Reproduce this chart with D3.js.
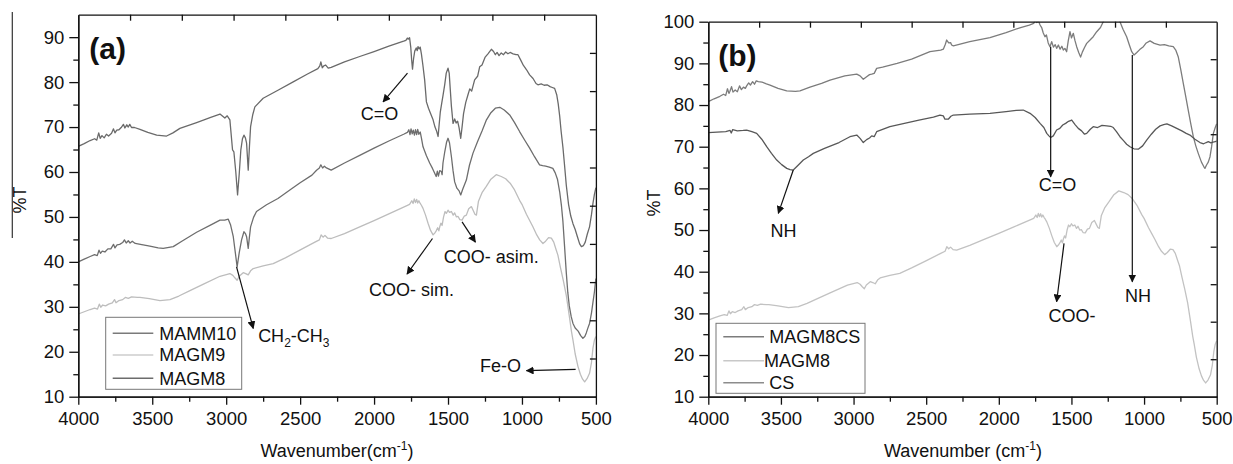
<!DOCTYPE html>
<html>
<head>
<meta charset="utf-8">
<script src="https://cdn.jsdelivr.net/npm/d3@7"></script>
<style>
  html, body { margin: 0; padding: 0; background: #fff; }
  svg { display: block; font-family: "Liberation Sans", Arial, sans-serif; }
  .axis path, .axis line { stroke: #111; stroke-width: 1.3; }
  .spec { fill: none; stroke-width: 1.3; stroke-linejoin: round; }
  .ann { font-size: 18px; fill: #111; }
</style>
</head>
<body>
<svg id="chart" width="1233" height="464"></svg>
<script>
// ---------- FTIR spectra, [wavenumber (cm-1), %T] ----------
const mamm10 = [
  [4000,65.7],[3960,66.3],[3920,67.0],[3890,67.4],[3875,67.1],[3862,68.7],[3852,67.5],[3840,68.1],[3825,67.6],
  [3810,68.4],[3795,68.0],[3775,68.6],[3762,69.6],[3752,68.7],[3740,69.3],[3725,69.4],[3710,69.9],[3695,70.6],
  [3685,69.8],[3672,70.5],[3662,70.0],[3652,70.6],[3640,69.9],[3620,69.9],[3583,69.5],[3530,68.8],[3470,68.2],
  [3403,68.0],[3360,68.7],[3313,69.7],[3200,71.0],[3100,72.2],[3042,72.9],[3009,72.0],[2993,72.5],[2975,71.6],
  [2957,64.9],[2948,64.5],[2935,60.0],[2923,54.9],[2912,59.5],[2901,64.9],[2890,67.4],[2880,68.2],[2870,67.6],
  [2862,66.4],[2851,60.4],[2843,65.5],[2835,70.1],[2820,72.8],[2806,74.5],[2750,76.4],[2650,78.2],[2550,80.0],
  [2450,81.8],[2380,83.0],[2367,83.6],[2360,84.5],[2350,83.2],[2340,83.6],[2327,83.8],[2310,83.1],[2290,83.3],
  [2200,84.5],[2097,85.7],[2000,86.8],[1900,88.0],[1830,88.8],[1800,89.1],[1785,89.3],[1775,89.8],[1768,89.6],
  [1760,89.9],[1752,87.8],[1746,85.0],[1740,82.9],[1733,85.2],[1725,86.9],[1715,87.6],[1708,87.0],[1703,87.9],
  [1695,87.4],[1688,87.8],[1680,86.3],[1670,83.8],[1658,80.5],[1646,75.6],[1632,74.2],[1618,73.0],[1601,71.6],
  [1588,70.0],[1578,69.2],[1567,67.9],[1560,70.5],[1552,73.4],[1543,75.2],[1534,77.0],[1522,79.5],[1512,82.0],
  [1500,83.1],[1492,82.0],[1485,78.5],[1477,74.6],[1466,70.8],[1455,71.8],[1445,70.9],[1435,71.3],[1425,69.8],
  [1414,67.5],[1405,70.0],[1395,73.0],[1380,75.5],[1365,77.2],[1353,78.5],[1340,78.0],[1320,80.5],[1300,81.3],
  [1286,83.4],[1270,83.8],[1250,85.5],[1230,86.3],[1207,87.3],[1192,86.8],[1180,86.1],[1168,86.6],[1155,85.9],
  [1140,86.5],[1125,86.1],[1110,86.7],[1095,86.3],[1080,86.6],[1060,86.3],[1040,86.1],[1027,86.1],[1010,85.0],
  [990,83.7],[970,82.8],[948,81.6],[925,80.8],[905,79.7],[892,79.4],[870,79.6],[850,79.3],[830,79.4],[810,79.0],
  [795,78.8],[779,78.6],[765,77.2],[755,75.2],[745,72.5],[735,69.0],[723,65.5],[712,61.5],[700,57.0],[685,52.8],
  [670,50.2],[655,48.5],[640,47.2],[625,45.6],[610,44.0],[598,43.4],[585,43.6],[572,44.4],[558,46.2],[543,47.8],
  [530,50.5],[520,53.0],[510,55.0],[500,56.5]
];

const magm9 = [
  [4000,28.4],[3960,28.9],[3920,29.4],[3890,29.7],[3870,29.5],[3858,30.6],[3848,29.9],[3835,30.4],[3815,30.2],
  [3795,30.6],[3770,30.9],[3755,31.6],[3745,30.9],[3725,31.4],[3700,31.6],[3682,32.1],[3662,31.9],[3640,32.2],
  [3600,32.1],[3583,32.1],[3520,31.8],[3448,31.4],[3380,31.6],[3320,32.4],[3245,33.6],[3150,35.1],[3042,36.8],
  [2975,37.4],[2955,37.0],[2940,36.4],[2926,35.9],[2912,36.8],[2885,37.6],[2868,37.4],[2851,37.1],[2835,38.0],
  [2817,38.5],[2750,39.1],[2682,39.6],[2600,40.9],[2502,42.6],[2400,44.4],[2370,44.9],[2358,46.0],[2345,45.5],
  [2332,45.9],[2315,45.3],[2290,45.2],[2200,46.3],[2097,47.8],[2000,49.2],[1900,50.7],[1800,52.2],[1760,52.8],
  [1745,53.6],[1736,53.0],[1728,54.0],[1720,53.2],[1712,53.9],[1705,53.1],[1697,53.6],[1688,53.0],[1680,52.6],
  [1669,51.9],[1652,50.4],[1635,48.6],[1618,47.0],[1601,46.0],[1590,46.4],[1580,46.9],[1570,47.6],[1562,46.9],
  [1556,47.8],[1548,48.6],[1540,48.1],[1530,50.0],[1520,51.2],[1511,50.8],[1500,51.5],[1490,51.0],[1477,51.2],
  [1465,50.4],[1455,50.9],[1443,50.0],[1432,50.1],[1420,49.4],[1405,49.3],[1390,50.2],[1376,50.4],[1360,51.8],
  [1342,52.3],[1328,51.3],[1318,50.6],[1308,50.4],[1294,53.5],[1270,55.4],[1241,56.8],[1210,58.4],[1174,59.4],
  [1140,59.0],[1110,58.5],[1080,57.5],[1050,56.0],[1016,53.7],[1000,52.8],[970,50.6],[948,49.2],[926,47.8],
  [900,46.0],[880,44.9],[858,44.1],[840,44.6],[820,45.4],[801,45.3],[785,44.4],[770,42.8],[757,41.5],[740,38.8],
  [720,35.8],[700,32.5],[680,28.0],[665,24.5],[655,22.6],[640,19.5],[621,16.7],[605,15.0],[590,13.9],[576,13.3],
  [560,14.0],[543,15.2],[530,17.6],[520,20.8],[510,22.6],[500,23.4]
];

const magm8 = [
  [4000,40.0],[3960,40.6],[3920,41.2],[3890,41.6],[3872,41.4],[3860,42.6],[3850,41.9],[3838,42.4],[3820,42.2],
  [3800,42.9],[3780,42.9],[3762,43.9],[3752,43.1],[3738,43.8],[3720,43.9],[3700,44.3],[3688,44.9],[3676,44.2],
  [3662,44.7],[3650,44.2],[3635,44.6],[3615,44.1],[3580,43.9],[3516,43.5],[3460,43.1],[3426,43.0],[3358,43.4],
  [3300,44.6],[3200,46.6],[3100,48.3],[3042,49.3],[3010,49.3],[2986,49.5],[2970,48.2],[2952,45.6],[2938,42.0],
  [2926,38.9],[2912,42.0],[2896,44.9],[2880,46.7],[2870,46.3],[2862,45.6],[2851,43.0],[2843,45.5],[2835,47.8],
  [2815,49.9],[2795,51.2],[2727,52.7],[2650,54.1],[2560,56.2],[2500,57.6],[2420,59.3],[2389,60.4],[2370,60.9],
  [2360,61.6],[2348,60.9],[2336,61.3],[2322,60.9],[2290,60.4],[2200,62.0],[2097,63.7],[2000,65.3],[1900,66.9],
  [1800,68.4],[1775,68.8],[1765,69.4],[1757,68.3],[1750,69.6],[1742,68.5],[1735,69.3],[1727,68.2],[1720,69.4],
  [1712,68.3],[1705,69.5],[1697,68.4],[1688,68.9],[1680,67.6],[1669,65.6],[1646,63.6],[1624,62.0],[1605,60.8],
  [1590,59.7],[1580,59.0],[1572,60.2],[1565,59.1],[1556,60.3],[1545,60.1],[1540,59.4],[1534,62.0],[1522,64.5],
  [1510,66.6],[1500,67.5],[1490,66.5],[1477,63.4],[1466,60.3],[1455,57.8],[1440,56.4],[1425,55.8],[1414,54.9],
  [1400,56.2],[1376,58.2],[1355,61.5],[1331,64.2],[1300,66.8],[1270,69.1],[1240,71.6],[1210,73.2],[1180,74.2],
  [1150,74.4],[1120,73.8],[1083,72.7],[1050,71.0],[1016,69.0],[980,67.0],[948,65.3],[915,63.4],[881,61.6],
  [860,61.4],[840,61.3],[815,61.1],[791,60.8],[775,59.8],[760,58.4],[745,55.6],[733,52.5],[723,49.0],
  [712,43.5],[700,37.5],[690,33.2],[680,30.2],[667,27.8],[655,26.3],[640,25.3],[620,24.6],[603,23.6],
  [588,23.0],[575,23.4],[565,24.2],[555,25.2],[543,26.3],[530,28.6],[520,31.0],[510,33.3],[504,35.2],[500,36.3]
];

const magm8cs = [
  [4000,80.8],[3960,81.5],[3920,82.1],[3895,82.6],[3880,82.3],[3868,83.9],[3858,82.8],[3851,83.3],[3840,84.4],
  [3830,83.1],[3815,83.6],[3800,83.2],[3785,84.6],[3772,83.7],[3758,84.3],[3745,84.0],[3736,84.6],[3722,85.3],
  [3710,84.8],[3695,85.6],[3682,85.0],[3670,85.8],[3656,85.6],[3630,85.5],[3600,85.1],[3575,84.8],[3520,84.0],
  [3460,83.4],[3400,83.3],[3369,83.4],[3300,84.3],[3220,85.2],[3162,86.0],[3060,87.0],[2978,87.4],[2955,87.0],
  [2933,86.2],[2910,86.8],[2890,87.3],[2875,87.4],[2858,87.6],[2841,88.8],[2800,89.1],[2700,90.0],[2600,91.0],
  [2474,92.8],[2400,93.2],[2382,93.4],[2368,94.6],[2359,95.6],[2345,94.9],[2332,95.0],[2325,94.4],[2313,94.2],
  [2200,95.2],[2061,96.2],[1950,97.4],[1850,98.6],[1790,99.2],[1760,99.6],[1748,100.4],[1739,99.8],[1728,100.3],
  [1716,99.2],[1704,98.5],[1694,97.3],[1682,96.4],[1672,96.8],[1660,94.9],[1648,94.0],[1636,95.2],[1624,93.9],
  [1612,94.5],[1602,93.6],[1590,94.4],[1578,93.4],[1566,94.1],[1556,93.2],[1545,93.6],[1533,92.8],[1522,95.4],
  [1510,97.6],[1500,96.1],[1487,97.2],[1476,95.5],[1464,94.0],[1450,92.6],[1437,91.5],[1425,92.7],[1410,93.8],
  [1395,94.8],[1372,95.6],[1350,96.4],[1326,97.6],[1300,98.6],[1281,100.0],[1260,101.5],[1230,103],[1200,102],
  [1180,101],[1166,100.0],[1145,98.2],[1120,96.4],[1100,94.3],[1085,92.8],[1069,92.0],[1050,92.6],[1030,93.3],
  [1005,94.0],[985,94.9],[959,95.4],[930,94.8],[890,94.4],[860,94.5],[830,94.2],[799,94.0],[782,93.2],
  [765,91.6],[748,88.6],[730,85.2],[713,82.0],[696,78.8],[678,75.4],[661,72.4],[644,70.2],[627,68.4],
  [605,66.3],[590,65.3],[581,64.8],[570,65.6],[558,66.3],[546,67.6],[535,70.0],[523,73.2],[510,74.6],[500,75.5]
];

const cs = [
  [4000,73.4],[3940,73.5],[3880,73.6],[3850,73.9],[3842,73.3],[3832,74.1],[3800,73.8],[3760,73.9],[3736,74.0],
  [3700,73.6],[3667,73.2],[3632,71.8],[3598,70.0],[3565,68.4],[3529,66.8],[3495,65.7],[3460,64.8],[3437,64.5],
  [3415,64.4],[3380,65.6],[3346,66.8],[3310,67.6],[3277,68.4],[3200,69.6],[3100,71.0],[3025,72.4],[2978,72.8],
  [2955,72.0],[2933,71.0],[2910,71.7],[2890,72.1],[2875,72.6],[2858,72.4],[2841,73.6],[2750,74.8],[2650,75.6],
  [2550,76.4],[2450,77.1],[2405,77.6],[2382,77.4],[2371,76.6],[2348,76.6],[2330,77.3],[2313,77.6],[2200,77.8],
  [2061,78.0],[1950,78.4],[1880,78.7],[1832,78.8],[1785,78.0],[1750,77.0],[1716,75.6],[1690,74.6],[1670,73.2],
  [1655,72.6],[1643,72.2],[1625,72.6],[1602,74.0],[1580,74.4],[1560,75.2],[1540,75.6],[1520,76.1],[1498,76.4],
  [1475,75.3],[1453,74.4],[1430,73.8],[1410,73.0],[1395,73.2],[1370,74.2],[1350,74.8],[1320,74.6],[1290,75.1],
  [1257,75.0],[1230,74.9],[1212,74.6],[1190,73.6],[1166,72.4],[1140,71.4],[1120,70.6],[1097,70.0],[1070,69.5],
  [1040,69.4],[1010,70.2],[982,71.6],[950,73.0],[920,74.2],[890,75.0],[865,75.3],[843,75.5],[810,75.0],
  [775,74.4],[740,73.8],[710,73.2],[684,72.8],[650,71.8],[615,71.0],[590,70.7],[572,71.0],[558,71.2],
  [540,70.9],[525,71.1],[510,71.2],[500,71.4]
];

// light trace of panel (b), labelled MAGM8
const magm8Ref = magm9.map(d => [d[0], d[1]]);

// ---------- tick labels ----------
const xTickLabels = [4000, 3500, 3000, 2500, 2000, 1500, 1000, 500];
const yTickLabelsA = [10, 20, 30, 40, 50, 60, 70, 80, 90];
const yTickLabelsB = [10, 20, 30, 40, 50, 60, 70, 80, 90, 100];

// ---------- legends ----------
const legendA = [
  { name: "MAMM10", color: "#7a7a7a" },
  { name: "MAGM9",  color: "#cdcdcd" },
  { name: "MAGM8",  color: "#6c6c6c" }
];
const legendB = [
  { name: "MAGM8CS", color: "#7c7c7c" },
  { name: "MAGM8",   color: "#c8c8c8" },
  { name: "CS",      color: "#8c8c8c" }
];

// ---------- annotations (arrow from -> to in data units, label centre) ----------
const notesA = [
  { from: [1774, 82.0], to: [1939, 75.6], label: [1963, 73.1], text: "C=O" },
  { from: [1605, 45.2], to: [1777, 37.3], label: [1747, 33.9], text: "COO- sim." },
  { from: [1405, 48.9], to: [1315, 44.4], label: [1207, 41.2], text: "COO- asim." },
  { from: [637, 16.1],  to: [970, 15.8],  label: [1145, 16.9], text: "Fe-O" },
  { from: [2930, 38.9], to: [2817, 25.2], label: null, text: "CH2-CH3" }
];
const notesB = [
  { from: [3415, 64.4], to: [3518, 54.0], label: [3482, 50.0], text: "NH" },
  { from: [1643, 94.0], to: [1643, 62.8], label: [1596, 61.0], text: "C=O" },
  { from: [1081, 92.0], to: [1081, 37.6], label: [1042, 34.2], text: "NH" },
  { from: [1551, 46.8], to: [1602, 32.8], label: [1496, 29.6], text: "COO-" }
];

const FONT = '"Liberation Sans", Arial, sans-serif';
const svg = d3.select("#chart");

// arrow head
svg.append("defs").append("marker")
  .attr("id", "arrow")
  .attr("viewBox", "0 0 10 10")
  .attr("refX", 9).attr("refY", 5)
  .attr("markerWidth", 8).attr("markerHeight", 8)
  .attr("markerUnits", "userSpaceOnUse")
  .attr("orient", "auto")
  .append("path").attr("d", "M0,0 L10,5 L0,10 Z").attr("fill", "#111");

function styleAxis(sel) {
  sel.attr("font-family", FONT).attr("font-size", 18);
  sel.selectAll("text").style("font-size", "18.5px").style("font-family", FONT).attr("fill", "#111");
}

function drawPanel(cfg) {
  const x = d3.scaleLinear().domain([4000, 500]).range([cfg.left, cfg.right]);
  const y = d3.scaleLinear().domain(cfg.yDomain).range([cfg.bottom, cfg.top]);
  const g = svg.append("g");

  g.append("clipPath").attr("id", cfg.id + "-clip")
    .append("rect")
    .attr("x", cfg.left).attr("y", cfg.top)
    .attr("width", cfg.right - cfg.left).attr("height", cfg.bottom - cfg.top);

  const line = d3.line().x(d => x(d[0])).y(d => y(d[1])).curve(d3.curveLinear);

  const plot = g.append("g").attr("clip-path", `url(#${cfg.id}-clip)`);
  cfg.series.forEach(s => {
    plot.append("path").datum(s.data)
      .attr("class", "spec")
      .attr("stroke", s.color)
      .attr("stroke-width", s.width || 1.3)
      .attr("d", line);
  });

  const fmt = d3.format("d");

  // bottom axis: labelled majors + minor ticks
  g.append("g").attr("class", "axis")
    .attr("transform", `translate(0,${cfg.bottom})`)
    .call(d3.axisBottom(x).tickValues(xTickLabels).tickFormat(fmt).tickSize(8).tickSizeOuter(0).tickPadding(7))
    .call(styleAxis);
  g.append("g").attr("class", "axis")
    .attr("transform", `translate(0,${cfg.bottom})`)
    .call(d3.axisBottom(x).tickValues(d3.range(3750, 500, -500)).tickSize(5).tickSizeOuter(0).tickFormat(""));

  // left axis
  g.append("g").attr("class", "axis")
    .attr("transform", `translate(${cfg.left},0)`)
    .call(d3.axisLeft(y).tickValues(cfg.yTicks).tickFormat(fmt).tickSize(9).tickSizeOuter(0).tickPadding(5))
    .call(styleAxis);
  g.append("g").attr("class", "axis")
    .attr("transform", `translate(${cfg.left},0)`)
    .call(d3.axisLeft(y).tickValues(cfg.yTicks.map(v => v + 5).filter(v => v < cfg.yDomain[1]))
      .tickSize(5).tickSizeOuter(0).tickFormat(""));

  // top and right frame with inward ticks (ten equal divisions)
  const topTicks = d3.range(1, 10).map(i => 4000 - 350 * i);
  g.append("g").attr("class", "axis")
    .attr("transform", `translate(0,${cfg.top})`)
    .call(d3.axisTop(x).tickValues(topTicks).tickSize(-6).tickSizeOuter(0).tickFormat(""));
  const [y0, y1] = cfg.yDomain;
  const rightTicks = d3.range(1, 10).map(i => y0 + (y1 - y0) * i / 10);
  g.append("g").attr("class", "axis")
    .attr("transform", `translate(${cfg.right},0)`)
    .call(d3.axisRight(y).tickValues(rightTicks).tickSize(-6).tickSizeOuter(0).tickFormat(""));

  // x axis title with superscript
  const xt = g.append("text")
    .attr("x", cfg.xTitleX).attr("y", 457)
    .attr("text-anchor", "middle")
    .attr("font-size", 18).attr("fill", "#111");
  xt.append("tspan").text(cfg.xTitle);
  xt.append("tspan").attr("dy", -7).attr("font-size", 12).text("-1");
  xt.append("tspan").attr("dy", 7).text(")");

  // y axis title
  g.append("text")
    .attr("transform", `translate(${cfg.yTitleX},${cfg.yTitleY}) rotate(-90)`)
    .attr("text-anchor", "middle")
    .attr("font-size", 18).attr("fill", "#111")
    .text("%T");

  // panel tag
  g.append("text")
    .attr("x", cfg.left + cfg.tagDx).attr("y", cfg.top + 44)
    .attr("font-size", 30).attr("font-weight", "bold").attr("fill", "#111")
    .text(cfg.tag);

  // legend
  const lg = g.append("g").attr("transform", `translate(${cfg.legend.x},${cfg.legend.y})`);
  lg.append("rect")
    .attr("width", cfg.legend.w).attr("height", cfg.legend.h)
    .attr("fill", "#fff").attr("stroke", "#777").attr("stroke-width", 1);
  cfg.legend.items.forEach((it, i) => {
    const cy = cfg.legend.rows[i];
    lg.append("line")
      .attr("x1", cfg.legend.lx0).attr("x2", cfg.legend.lx1)
      .attr("y1", cy).attr("y2", cy)
      .attr("stroke", it.color).attr("stroke-width", 1.6);
    lg.append("text")
      .attr("x", cfg.legend.tx[i]).attr("y", cy + 6.5)
      .attr("font-size", 18).attr("fill", "#111")
      .text(it.name);
  });

  // annotations
  cfg.notes.forEach(n => {
    g.append("line")
      .attr("x1", x(n.from[0])).attr("y1", y(n.from[1]))
      .attr("x2", x(n.to[0])).attr("y2", y(n.to[1]))
      .attr("stroke", "#111").attr("stroke-width", 1.2)
      .attr("marker-end", "url(#arrow)");
    if (n.label) {
      g.append("text").attr("class", "ann")
        .attr("x", x(n.label[0])).attr("y", y(n.label[1]) + 6.5)
        .attr("text-anchor", "middle")
        .text(n.text);
    }
  });
  return { x, y, g };
}

const A = drawPanel({
  id: "pa", left: 78.3, right: 595.9, top: 14.7, bottom: 396.7,
  yDomain: [10, 95], yTicks: yTickLabelsA,
  series: [
    { data: magm9,  color: "#bdbdbd", width: 1.4 },
    { data: magm8,  color: "#6e6e6e", width: 1.5 },
    { data: mamm10, color: "#6a6a6a", width: 1.2 }
  ],
  xTitle: "Wavenumber(cm", xTitleX: 337,
  yTitleX: 26, yTitleY: 200,
  tag: "(a)", tagDx: 11,
  legend: { x: 105.7, y: 317.3, w: 136, h: 72, lx0: 7, lx1: 47.6, tx: [53.6, 53.6, 53.6],
            rows: [16, 37.7, 61], items: legendA },
  notes: notesA
});

// CH2-CH3 label with subscripts
{
  const t = A.g.append("text").attr("class", "ann")
    .attr("x", A.x(2784)).attr("y", A.y(23.7) + 6.5);
  t.append("tspan").text("CH");
  t.append("tspan").attr("dy", 5).attr("font-size", 12).text("2");
  t.append("tspan").attr("dy", -5).text("-CH");
  t.append("tspan").attr("dy", 5).attr("font-size", 12).text("3");
}

// vertical rule beside the left axis title
svg.append("line")
  .attr("x1", 12.3).attr("x2", 12.3).attr("y1", 12).attr("y2", 238)
  .attr("stroke", "#333").attr("stroke-width", 1.2);

drawPanel({
  id: "pb", left: 708.3, right: 1216.7, top: 21.7, bottom: 396.7,
  yDomain: [10, 100], yTicks: yTickLabelsB,
  series: [
    { data: magm8Ref, color: "#c2c2c2", width: 1.4 },
    { data: magm8cs,  color: "#7c7c7c", width: 1.3 },
    { data: cs,       color: "#585858", width: 1.2 }
  ],
  xTitle: "Wavenumber (cm", xTitleX: 963,
  yTitleX: 660, yTitleY: 203,
  tag: "(b)", tagDx: 10,
  legend: { x: 716, y: 323.3, w: 149, h: 70, lx0: 7.3, lx1: 48, tx: [53.3, 48, 53.3],
            rows: [13.4, 37.4, 59.4], items: legendB },
  notes: notesB
});
</script>
</body>
</html>
